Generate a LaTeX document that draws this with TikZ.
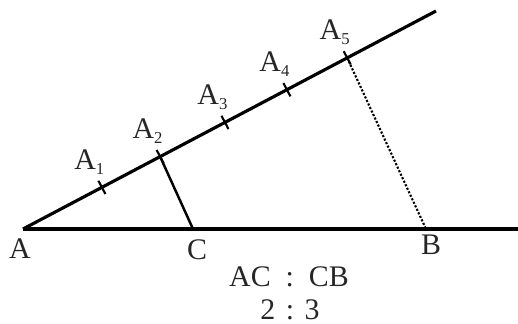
\documentclass[tikz,border=0pt]{standalone}
\usepackage{fontspec}
\setmainfont{Liberation Serif}
\usetikzlibrary{positioning}
\newcommand{\lowix}[1]{\raisebox{-3pt}{\fontsize{9.5}{10}\selectfont #1}}
\tikzset{
  ray line/.style={line width=1.8pt},
  tick mark/.style={line width=1.2pt},
  pt label/.style={inner sep=0pt, text=black!85, font=\fontsize{17}{20}\selectfont},
}

\begin{document}
\begin{tikzpicture}
      % Fix the picture size
      \useasboundingbox (0,0) rectangle (10.36,6.46);

      % Base points on the horizontal line and end of the ray
      \coordinate (A) at (0.46,1.88);
      \coordinate (E) at (8.72,6.24);
      \coordinate (R) at (10.36,1.88);
      \coordinate (C) at (3.86,1.88);
      \coordinate (B) at (8.52,1.88);

      % Horizontal segment and slanted ray
      \draw[ray line] (A) -- (R);
      \draw[ray line] (A) -- (E);

      % Equal steps marked along the ray
      \foreach \k/\t in {1/0.191,2/0.332,3/0.489,4/0.639,5/0.785}{
        \path (A) -- (E) coordinate[pos=\t] (A\k);
        \draw[tick mark] (A\k) ++(117.8:0.15) -- ++(-62.2:0.3);
        \node[pt label, above=0.25cm of A\k, xshift=-0.25cm] (lA\k) {A\lowix{\k}};
      }

      % Parallel lines through A2 and A5
      \draw[line width=1.4pt] (A2) -- (C);
      \draw[line width=1.2pt, densely dotted] (A5) -- (B);

      % Point names on the horizontal line
      \node[pt label, below=0.18cm of A, xshift=-0.06cm] (lA) {A};
      \node[pt label, below=0.2cm of C, xshift=0.08cm] (lC) {C};
      \node[pt label, below=0.12cm of B, xshift=0.1cm] (lB) {B};

      % Ratio
      \node[pt label, anchor=base] (ratio) at (5.78,0.74) {AC\hspace{0.5em}:\hspace{0.5em}CB};
      \node[pt label, anchor=base] (nums) at (5.8,0.08) {2\hspace{0.35em}:\hspace{0.35em}3};
\end{tikzpicture}
\end{document}
